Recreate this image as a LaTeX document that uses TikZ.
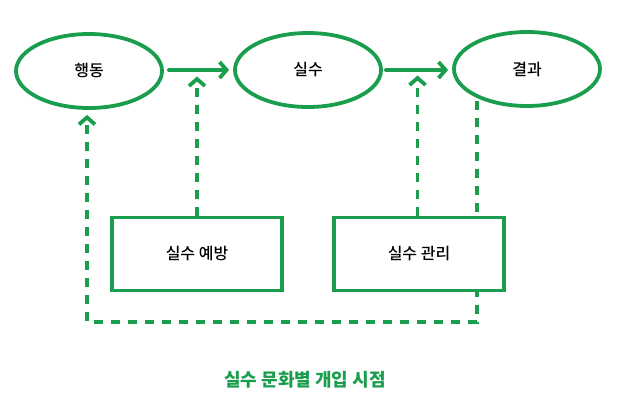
\documentclass[tikz,border=0pt]{standalone}
\usepackage{fontspec}
\setmainfont{Noto Sans CJK KR}
\newfontfamily\medfont{Noto Sans CJK KR Medium}
\usetikzlibrary{shapes.geometric,arrows.meta,calc}
\definecolor{grn}{RGB}{26,158,78}
\tikzset{
  stroke/.style={draw=grn, line width=3.8pt},
  blob/.style={stroke, ellipse, minimum width=146pt, minimum height=74pt, font=\medfont\fontsize{16}{18}\selectfont},
  boxnode/.style={stroke, fill=white, rectangle, minimum width=170pt, minimum height=73pt, font=\medfont\fontsize{16}{18}\selectfont},
  flow/.style={draw=grn, line width=3.8pt, line cap=round, -{Straight Barb[length=7pt,width=16pt]}},
  dflow/.style={flow, dash pattern=on 9pt off 8pt, line cap=butt},
}
\begin{document}
\begin{tikzpicture}[x=1pt,y=-1pt]
\useasboundingbox (0,0) rectangle (620,402);
\node[blob] (a) at (89,71) {행동};
\node[blob] (b) at (308,70) {실수};
\node[blob] (c) at (527,69) {결과};
\draw[flow] ($(a.east)+(5,-1)$) -- ($(a.east -| b.west)+(-4,-1)$);
\draw[flow] ($(b.east)+(3,0)$) -- ($(b.east -| c.west)+(-4,0)$);
\coordinate (c1) at (477,101);
\coordinate (c2) at (477,322);
\coordinate (c3) at (87,322);
\draw[dflow, shorten >=5pt] (c1) -- (c2) -- (c3) -- (c3 |- a.south);
\node[boxnode] (p) at (197,254) {실수 예방};
\node[boxnode] (m) at (419,254) {실수 관리};
\coordinate (t1) at ($(a.east)!0.5!(b.west)$);
\coordinate (t2) at ($(b.east)!0.5!(c.west)$);
\draw[dflow, shorten >=6pt] (p.north) -- (p.north |- t1);
\draw[dflow, shorten >=6pt] (m.north -| t2) -- (t2);
\node[text=grn, font=\bfseries\fontsize{18}{20}\selectfont] (title) at (305,380) {실수 문화별 개입 시점};
\end{tikzpicture}
\end{document}
